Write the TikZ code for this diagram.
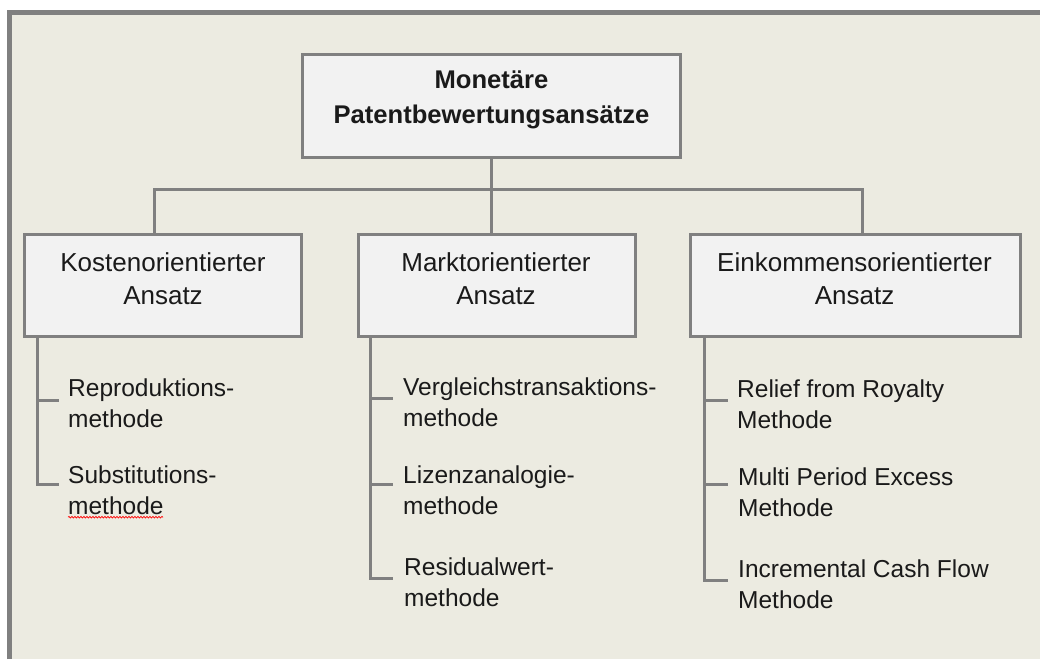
\documentclass[tikz,border=0pt]{standalone}
\usepackage{fontspec}
\setmainfont{Liberation Sans}
\usetikzlibrary{decorations.pathmorphing}
\definecolor{bg}{HTML}{ECEBE1}
\definecolor{boxfill}{HTML}{F2F2F2}
\definecolor{ln}{HTML}{808080}
\definecolor{txt}{HTML}{1A1A1A}
\begin{document}
\begin{tikzpicture}[x=1pt,y=-1pt,
 boxstyle/.style={draw=ln, line width=3pt, fill=boxfill, rectangle, inner sep=0pt},
 conn/.style={draw=ln, line width=3pt},
 titletext/.style={font=\fontsize{25.6}{35}\selectfont\bfseries, align=center, text=txt, inner sep=0pt},
 cattext/.style={font=\fontsize{26}{33}\selectfont, align=center, text=txt, inner sep=0pt},
 leaftext/.style={font=\fontsize{24.5}{31}\selectfont, align=left, text=txt, inner sep=0pt, anchor=west},
]
\useasboundingbox (0,0) rectangle (1040,659);
\fill[white] (0,0) rectangle (1040,659);
\fill[bg] (9.5,12.5) rectangle (1040,659);
\draw[ln, line width=4.5pt] (9.5,659) -- (9.5,12.5) -- (1040,12.5);

% boxes
\node[boxstyle, minimum width=378pt, minimum height=103pt] (top) at (491.5,106) {};
\node[boxstyle, minimum width=277pt, minimum height=102pt] (k) at (163,285.5) {};
\node[boxstyle, minimum width=277pt, minimum height=102pt] (m) at (497,285.5) {};
\node[boxstyle, minimum width=330pt, minimum height=102pt] (e) at (855.5,285.5) {};

% box texts
\node[titletext] (toptext) at (491.5,100) {Monetäre\\Patentbewertungsansätze};
\node[cattext] (ktext) at (163,278.5) {Kostenorientierter\\Ansatz};
\node[cattext] (mtext) at (496,278.5) {Marktorientierter\\Ansatz};
\node[cattext] (etext) at (854.5,278.5) {Einkommensorientierter\\Ansatz};

% leaves
\node[leaftext] (k1) at (68,403.5) {Reproduktions-\\methode};
\node[leaftext] (k2) at (68,490.5) {Substitutions-\\methode};
\node[leaftext] (m1) at (403,402.5) {Vergleichstransaktions-\\methode};
\node[leaftext] (m2) at (403,490.5) {Lizenzanalogie-\\methode};
\node[leaftext] (m3) at (404,582.5) {Residualwert-\\methode};
\node[leaftext] (e1) at (737,404) {Relief from Royalty\\Methode};
\node[leaftext] (e2) at (738,492.5) {Multi Period Excess\\Methode};
\node[leaftext] (e3) at (738,584) {Incremental Cash Flow\\Methode};

% top connectors
\coordinate (busL) at (154,189);
\coordinate (busR) at (862,189);
\draw[conn] (busL |- k.north) -- (busL) -- (busR) -- (busR |- e.north);
\draw[conn] (top.south) -- (top.south |- m.north);

% tree coordinates
\coordinate (kx) at (37,338);
\coordinate (kt1) at (59,400);
\coordinate (kt2) at (59,484);
\coordinate (mx) at (370,338);
\coordinate (mt1) at (393,398);
\coordinate (mt2) at (393,484);
\coordinate (mt3) at (393,578);
\coordinate (ex) at (704,338);
\coordinate (et1) at (728,400);
\coordinate (et2) at (728,484);
\coordinate (et3) at (728,580);

\draw[conn] (k.south -| kx) |- (kt2);
\draw[conn] (kt1 -| kx) -- (kt1);
\draw[conn] (m.south -| mx) |- (mt3);
\draw[conn] (mt1 -| mx) -- (mt1);
\draw[conn] (mt2 -| mx) -- (mt2);
\draw[conn] (e.south -| ex) |- (et3);
\draw[conn] (et1 -| ex) -- (et1);
\draw[conn] (et2 -| ex) -- (et2);

% spellcheck underline
\draw[red, line width=0.7pt, decorate, decoration={snake, amplitude=0.8pt, segment length=3pt}]
  ([yshift=-2pt]k2.south west) -- +(95,0);
\end{tikzpicture}
\end{document}
